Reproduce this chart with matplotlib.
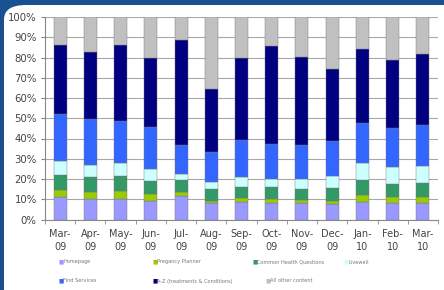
import matplotlib
matplotlib.use('Agg')
import matplotlib.pyplot as plt
from matplotlib.patches import FancyBboxPatch
import numpy as np

months = ['Mar-\n09', 'Apr-\n09', 'May-\n09', 'Jun-\n09', 'Jul-\n09', 'Aug-\n09', 'Sep-\n09',
          'Oct-\n09', 'Nov-\n09', 'Dec-\n09', 'Jan-\n10', 'Feb-\n10', 'Mar-\n10']

# shares in % per month
homepage = [10.9, 10.1, 10.1, 9.3, 11.6, 8.0, 8.5, 8.0, 8.0, 7.6, 8.8, 8.0, 8.3]
pregnancy = [3.6, 3.6, 4.1, 3.3, 2.1, 1.3, 1.9, 1.9, 1.6, 1.7, 3.3, 3.2, 2.6]
health_q = [7.3, 7.4, 7.2, 6.5, 5.6, 5.9, 5.8, 6.0, 5.3, 6.2, 7.4, 6.3, 7.2]
livewell = [7.2, 5.6, 6.3, 5.6, 3.3, 3.4, 4.6, 4.2, 4.9, 5.9, 8.2, 8.5, 8.3]
find_services = [23.3, 22.8, 20.8, 21.0, 14.1, 14.7, 18.4, 17.1, 17.2, 17.3, 20.2, 19.4, 20.2]
a_to_z = [34.0, 33.2, 37.8, 34.2, 52.1, 31.3, 40.7, 48.4, 43.2, 35.8, 36.1, 33.5, 35.3]
other = [13.7, 17.3, 13.7, 20.1, 11.2, 35.4, 20.1, 14.4, 19.8, 25.5, 16.0, 21.1, 18.1]

series = [
    ('Homepage', homepage, '#9999ff'),
    ('Pregancy Planner', pregnancy, '#99cc00'),
    ('Common Health Questions', health_q, '#339966'),
    ('Livewell', livewell, '#ccffff'),
    ('Find Services', find_services, '#3366ff'),
    ('A-Z (treatments & Conditions)', a_to_z, '#000080'),
    ('All other content', other, '#c0c0c0'),
]

fig = plt.figure(figsize=(4.44, 2.90), dpi=100, facecolor='#1a4f90')
fig.patches.append(FancyBboxPatch((4 / 444, -0.2), 1.2, 1.2 - 5 / 290,
                                  boxstyle='round,pad=0,rounding_size=0.05',
                                  transform=fig.transFigure, facecolor='white',
                                  edgecolor='none', zorder=-5))

ax = fig.add_axes([45 / 444, 1 - 219.5 / 290, 393 / 444, 202.5 / 290])
ax.set_zorder(2)
ax.set_facecolor('white')

x = np.arange(len(months))
bottom = np.zeros(len(months))
for name, vals, color in series:
    v = np.array(vals)
    ax.bar(x, v, 0.43, bottom=bottom, color=color, edgecolor='#777777',
           linewidth=0.3, zorder=3)
    bottom += v

ax.set_xlim(-0.5, len(months) - 0.5)
ax.set_ylim(0, 100)
ax.set_yticks(range(0, 101, 10))
ax.set_yticklabels([f'{t}%' for t in range(0, 101, 10)])
ax.set_xticks(x)
ax.set_xticklabels(months, linespacing=1.3)
ax.set_xticks(np.arange(-0.5, len(months), 1), minor=True)
ax.tick_params(axis='x', which='major', length=0, pad=7, labelsize=7, colors='#444444')
ax.tick_params(axis='x', which='minor', length=3, color='#888888')
ax.tick_params(axis='y', length=3, pad=3, labelsize=7.3, colors='#444444')
ax.tick_params(axis='y', color='#888888')
ax.yaxis.grid(True, color='#a8a8a8', linewidth=0.8, zorder=0)
ax.set_axisbelow(True)
for side in ('top', 'right'):
    ax.spines[side].set_visible(False)
for side in ('left', 'bottom'):
    ax.spines[side].set_color('#888888')
    ax.spines[side].set_linewidth(0.8)

# legend entries in two rows, laid out like the original
legend_pos = [(58, 262), (152, 262), (252, 262), (343, 262),
              (58, 281), (152, 281), (265, 281)]
for (name, vals, color), (px, py) in zip(series, legend_pos):
    fig.text(px / 444, 1 - py / 290, '■', color=color, fontsize=4,
             va='center', ha='left')
    fig.text((px + 5) / 444, 1 - py / 290, name, color='#777777', fontsize=3.6,
             va='center', ha='left')

fig.savefig('out.png', dpi=100, facecolor=fig.get_facecolor())
